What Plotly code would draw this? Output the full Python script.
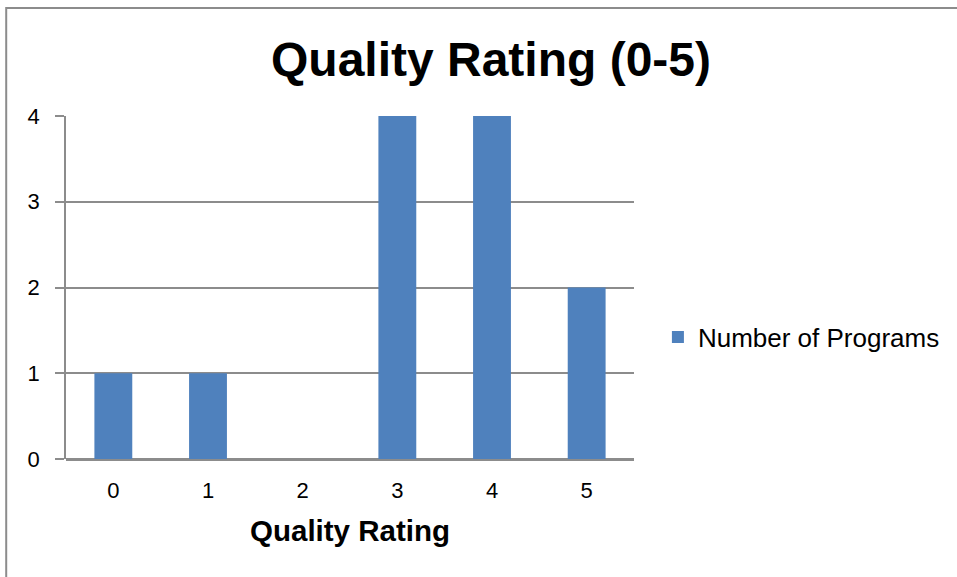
import plotly.graph_objects as go

categories = ["0", "1", "2", "3", "4", "5"]
programs = [1, 1, 0, 4, 4, 2]
series_name = "Number of Programs"
title_text = "Quality Rating (0-5)"
x_title = "Quality Rating"
y_ticks = [0, 1, 2, 3, 4]

W, H = 957, 577
L, R, T, B = 66, 321, 116, 118

fig = go.Figure()
fig.add_trace(go.Bar(
    x=categories, y=programs, name=series_name,
    marker=dict(color="#4F81BD", line=dict(width=0)),
    showlegend=True,
))

fig.update_layout(
    width=W, height=H,
    margin=dict(l=L, r=R, t=T, b=B, pad=0),
    paper_bgcolor="white", plot_bgcolor="white",
    bargap=0.6,
    font=dict(family="Liberation Sans, Arial, sans-serif", color="black"),
    title=dict(text="<b>" + title_text + "</b>", x=491 / W, xanchor="center",
               y=1 - 59 / H, yanchor="middle", xref="container", yref="container",
               font=dict(size=48, color="black")),
    showlegend=True,
    legend=dict(x=(660 - L) / (W - L - R), xanchor="left",
                y=(H - B - 337) / (H - T - B), yanchor="middle",
                font=dict(size=26, color="black"), itemwidth=30,
                bgcolor="rgba(0,0,0,0)"),
    xaxis=dict(
        type="category", showgrid=False, showline=False, ticks="",
        tickfont=dict(size=22, color="black"), ticklabelstandoff=16,
        title=dict(text="<b>" + x_title + "</b>", font=dict(size=29.5, color="black"), standoff=18),
        zeroline=False,
    ),
    yaxis=dict(
        range=[0, 4], tickvals=y_ticks, showgrid=True, gridcolor="#8C8C8C", gridwidth=1.5,
        showline=True, linecolor="#8C8C8C", linewidth=1.5,
        ticks="outside", ticklen=9, tickcolor="#8C8C8C", tickwidth=1.5,
        tickfont=dict(size=22, color="black"), ticklabelstandoff=11,
        zeroline=True, zerolinecolor="#8C8C8C", zerolinewidth=2.5,
        fixedrange=True,
    ),
    shapes=[dict(
        type="rect", xref="paper", yref="paper",
        x0=(6 - L) / (W - L - R), x1=1.8,
        y0=-1.0, y1=(H - B - 8) / (H - T - B),
        line=dict(color="#8C8C8C", width=2), fillcolor="rgba(0,0,0,0)", layer="below",
    )],
)

fig.write_html("out.html", config={"displayModeBar": False},
               post_script="document.body.style.margin='0';document.body.style.overflow='hidden';")
